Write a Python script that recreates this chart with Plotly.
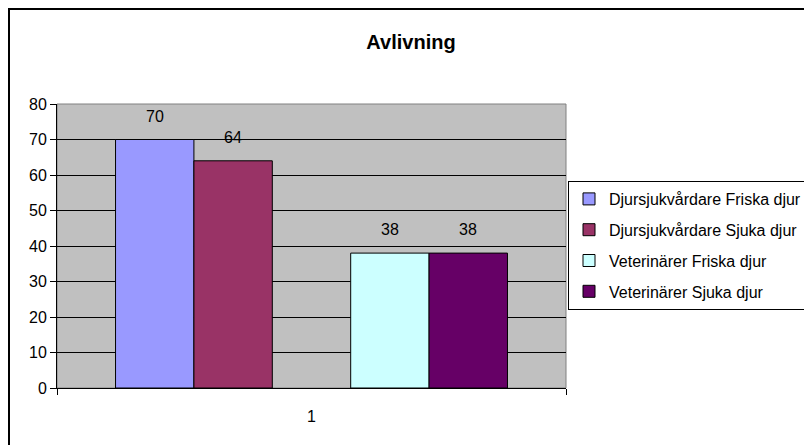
import plotly.graph_objects as go

# data
category = ["1"]
series_names = ["Djursjukvårdare Friska djur", "Djursjukvårdare Sjuka djur",
                "", "Veterinärer Friska djur", "Veterinärer Sjuka djur"]
series_values = [70, 64, None, 38, 38]
series_colors = ["#9999FF", "#993366", "#C0C0C0", "#CCFFFF", "#660066"]

W, H = 804, 445
ml, mr, mt, mb = 57, 238, 104, 57
bargap = 0.23
font = "Arial, Liberation Sans, sans-serif"

fig = go.Figure()
n = len(series_names)
slot = (1 - bargap) / n
annotations = []
for i, (name, val, col) in enumerate(zip(series_names, series_values, series_colors)):
    empty = val is None
    fig.add_trace(go.Bar(
        x=category,
        y=[val],
        name=name,
        legendgroup=str(i),
        showlegend=not empty,
        marker=dict(color=col, line=dict(color="black", width=1)),
        hoverinfo="skip" if empty else None))
    if not empty:
        annotations.append(dict(
            x=-(1 - bargap) / 2 + slot * (i + 0.5),
            y=val,
            xref="x", yref="y",
            text=str(val),
            showarrow=False,
            yanchor="bottom",
            yshift=13,
            font=dict(size=16, color="black", family=font)))

# outer chart border (runs off the right and bottom edges)
pw = W - ml - mr
ph = H - mt - mb
def px_x(p):
    return (p - ml) / pw
def px_y(p):
    return (H - mb - p) / ph

shapes = [
    dict(type="rect", xref="paper", yref="paper",
         x0=0, x1=1, y0=0, y1=1,
         line=dict(color="#808080", width=1), layer="below"),
    dict(type="rect", xref="paper", yref="paper",
         x0=px_x(9), x1=px_x(815), y0=px_y(455), y1=px_y(9),
         line=dict(color="black", width=2)),
]

fig.update_layout(
    width=W, height=H,
    margin=dict(l=ml, r=mr, t=mt, b=mb, autoexpand=False),
    paper_bgcolor="white",
    plot_bgcolor="#C0C0C0",
    barmode="group",
    bargap=bargap,
    bargroupgap=0,
    font=dict(family=font, size=16, color="black"),
    title=dict(text="<b>Avlivning</b>", x=411 / W, xanchor="center",
               y=1 - 42 / H, yanchor="middle", yref="container",
               font=dict(size=20, family=font, color="black")),
    legend=dict(xref="container", yref="container",
                x=568 / W, xanchor="left", y=1 - 181 / H, yanchor="top",
                bordercolor="black", borderwidth=1, bgcolor="white",
                font=dict(size=16, family=font, color="black"),
                tracegroupgap=7, traceorder="grouped"),
    annotations=annotations,
    shapes=shapes,
    showlegend=True,
)
fig.update_yaxes(range=[0, 80], dtick=10, showgrid=True, gridcolor="black",
                 gridwidth=1, showline=True, linecolor="black", linewidth=1,
                 ticks="outside", ticklen=6, tickcolor="black",
                 zeroline=False, fixedrange=True)
fig.update_xaxes(type="category", showline=True, linecolor="black",
                 linewidth=1, ticks="outside", tickson="boundaries",
                 ticklen=6, tickcolor="black", ticklabelstandoff=14,
                 showgrid=False, fixedrange=True)

fig.write_html("out.html", config={"displayModeBar": False},
               post_script="document.body.style.margin='0';")
